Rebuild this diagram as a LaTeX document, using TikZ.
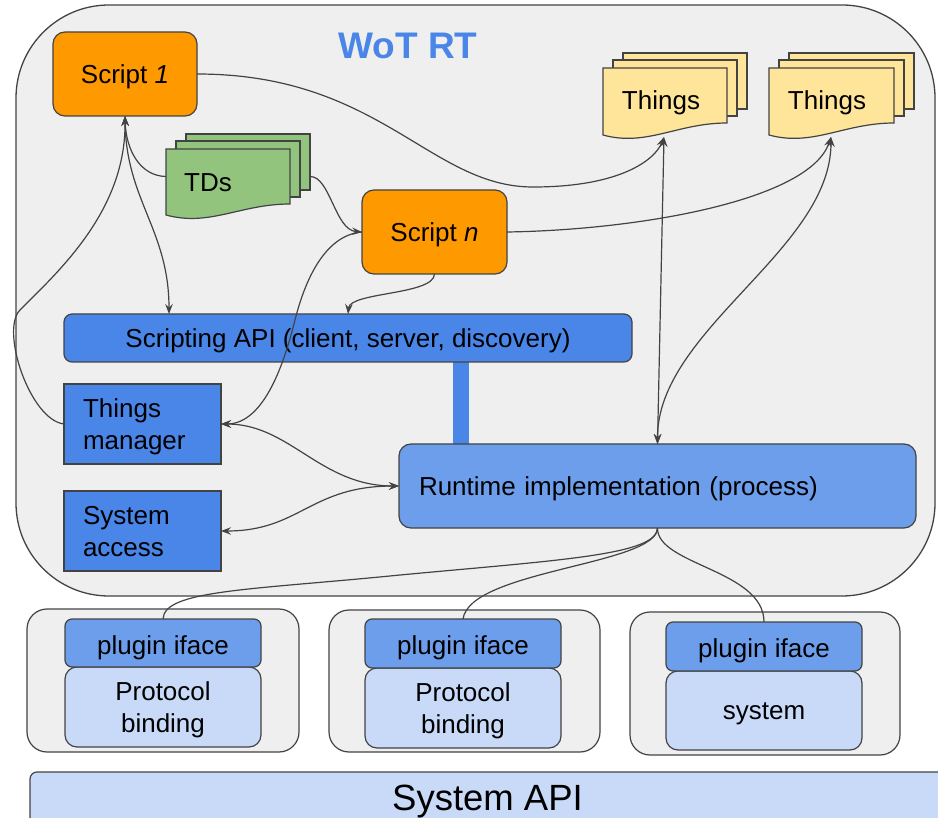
\documentclass[tikz,border=0pt]{standalone}
\usepackage{fontspec}
\setmainfont{Liberation Sans}
\usetikzlibrary{arrows.meta,calc}
\definecolor{edge}{HTML}{434343}
\definecolor{bgc}{HTML}{EFEFEF}
\definecolor{orng}{HTML}{FF9900}
\definecolor{dblue}{HTML}{4A86E8}
\definecolor{mblue}{HTML}{6D9EEB}
\definecolor{lblue}{HTML}{C9DAF8}
\definecolor{yel}{HTML}{FFE599}
\definecolor{grn}{HTML}{93C47D}
\newcommand\wotdoc[6]{%
  \filldraw[fill=#6, draw=edge, line width=1.2pt] (#1+20,#2-15) rectangle (#3+20,#4-14);
  \filldraw[fill=#6, draw=edge, line width=1.2pt] (#1+10,#2-8) rectangle (#3+10,#4-7);
  \filldraw[fill=#6, draw=edge, line width=1.2pt] (#1,#2) -- (#3,#2) -- (#3,#4)
     .. controls ({#3-0.4*(#3-#1)},#4) and ({#1+0.35*(#3-#1)},#5+12) .. (#1,#5) -- cycle;
}
\begin{document}
\begin{tikzpicture}[x=1pt,y=-1pt,
  every node/.style={inner sep=0pt, outer sep=0pt},
  txt/.style={font=\fontsize{26}{32}\selectfont},
  box/.style={txt, draw=edge, line width=1.2pt, anchor=north west, text height=25pt, text depth=6pt},
  scriptbox/.style={box, fill=orng, rounded corners=12pt, minimum width=144pt, minimum height=84pt},
  bluebox/.style={box, fill=dblue, minimum width=157pt, minimum height=80pt, align=left,
     text width=119pt, text height=20pt, text depth=32pt},
  groupbox/.style={draw=edge, line width=1.2pt, fill=bgc, rounded corners=20pt, anchor=north west},
  plugbox/.style={box, fill=mblue, rounded corners=7pt, minimum width=196pt, minimum height=48pt,
     text height=28pt, text depth=6pt},
  bindbox/.style={box, fill=lblue, rounded corners=12pt, minimum width=196pt, minimum height=80pt,
     align=center, text width=180pt, text height=19pt, text depth=33pt},
  docarea/.style={anchor=north west, minimum width=124pt, minimum height=55pt},
  conn/.style={draw=edge, line width=1.2pt},
  >={Stealth[length=10pt,width=7.5pt,inset=3.5pt]}
]
\clip (0,0) rectangle (938,818);
\fill[white] (0,0) rectangle (938,818);

% outer runtime container
\node[draw=edge, fill=bgc, line width=1.3pt, rounded corners=93pt,
      minimum width=919pt, minimum height=591pt, anchor=north west] (wot) at (16,5) {};
\node[font=\bfseries\fontsize{37}{44}\selectfont, text=dblue] (title) at (408,46) {WoT RT};

% documents
\wotdoc{166}{149}{290}{204}{215}{grn}
\node[docarea] (td) at (166,149) {};
\node[txt, anchor=base] (tdt) at (208,192) {TDs};

\wotdoc{603}{68}{727}{123}{135}{yel}
\node[docarea] (th1) at (603,68) {};
\node[txt, anchor=base] (th1t) at (661,110) {Things};
\coordinate (th1b) at (664,137);

\wotdoc{769}{68}{894}{123}{135}{yel}
\node[docarea, minimum width=125pt] (th2) at (769,68) {};
\node[txt, anchor=base] (th2t) at (827,110) {Things};
\coordinate (th2b) at (831,137);

% scripts
\node[scriptbox] (s1) at (53,32) {Script \textit{1}};
\node[scriptbox, minimum width=145pt] (sn) at (362,190) {Script \textit{n}};

% API, bar, runtime
\node[fill=dblue, minimum width=16pt, minimum height=86pt, anchor=north west] (bar) at (453,360) {};
\node[box, fill=dblue, rounded corners=8pt, minimum width=568pt, minimum height=48pt] (api) at (64,314)
  {Scripting API (client, server, discovery)};
\node[box, fill=mblue, rounded corners=12pt, minimum width=517pt, minimum height=84pt,
      text width=477pt, align=left] (rt) at (399,444) {Runtime implementation (process)};

\node[bluebox] (tm) at (64,384) {Things\\manager};
\node[bluebox] (sa) at (64,491) {System\\access};

% plugin groups
\node[groupbox, minimum width=272pt, minimum height=143pt] (g1) at (27,609) {};
\node[groupbox, minimum width=271pt, minimum height=142pt] (g2) at (329,610) {};
\node[groupbox, minimum width=270pt, minimum height=143pt] (g3) at (630,612) {};

\node[bindbox] (b1) at (65,667) {Protocol\\binding};
\node[plugbox] (p1) at (65,619) {plugin iface};
\node[bindbox] (b2) at (365,668) {Protocol\\binding};
\node[plugbox, minimum height=49pt] (p2) at (365,619) {plugin iface};
\node[bindbox, minimum height=79pt, text height=23pt, text depth=6pt] (b3) at (666,671) {system};
\node[plugbox, minimum height=49pt] (p3) at (666,622) {plugin iface};

% System API
\node[draw=edge, line width=1.2pt, fill=lblue, rounded corners=7pt, anchor=north west,
      minimum width=915pt, minimum height=62pt, font=\fontsize{36.5}{44}\selectfont,
      text height=22pt, text depth=7pt] (sys) at (30,772) {System API};

% connectors
\draw[conn,->] (s1.east) .. controls (380,74) and (430,187) .. (533,187)
   .. controls (620,187) and (655,160) .. (th1b);
\draw[conn,->] (sn.east) .. controls (640,230) and (810,200) .. (th2b);
\draw[conn,<->] (rt.north) -- (th1b);
\draw[conn,<->] (th2b) .. controls (831,250) and (657,330) .. (rt.north);
\draw[conn,<->] (s1.south) .. controls (126,200) and (169,230) .. ($(api.north west)+(105,0)$);
\draw[conn,->] (td.west) .. controls (140,176) and (126,150) .. (s1.south);
\draw[conn,->] (tm.west) .. controls (30,420) and (0,330) .. (20,310)
   .. controls (60,270) and (126,210) .. (s1.south);
\draw[conn,->] ($(td.east)+(20,0)$) .. controls (330,176) and (335,230) .. (sn.west);
\draw[conn,->] (sn.west) .. controls (325,235) and (305,280) .. (295,320)
   .. controls (285,360) and (265,424) .. (tm.east);
\draw[conn,->] (sn.south) .. controls (434,295) and (350,292) .. ($(api.north west)+(284,0)$);
\draw[conn,<->] (tm.east) .. controls (290,424) and (320,486) .. (rt.west);
\draw[conn,<->] (sa.east) .. controls (300,531) and (310,486) .. (rt.west);
\draw[conn] (rt.south) .. controls (657,555) and (560,560) .. (400,575)
   .. controls (250,590) and (164,590) .. (p1.north);
\draw[conn] (rt.south) .. controls (657,565) and (470,570) .. (p2.north);
\draw[conn] (rt.south) .. controls (657,565) and (764,570) .. (p3.north);
\end{tikzpicture}
\end{document}
